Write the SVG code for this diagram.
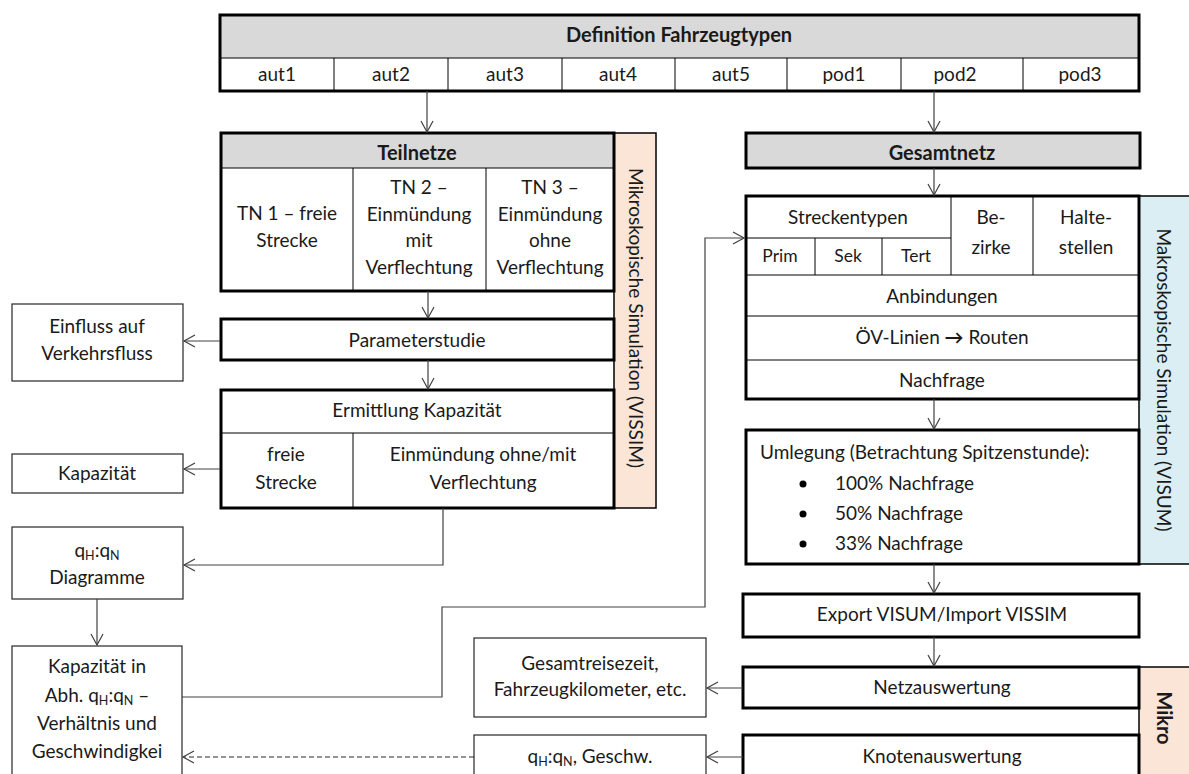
<svg xmlns="http://www.w3.org/2000/svg" width="1189" height="774" viewBox="0 0 1189 774">
<defs>
<style>
text{font-family:Lato,"Liberation Sans",sans-serif;font-size:19px;fill:#1a1a1a;text-anchor:middle}
.b{font-weight:bold;font-size:20px}
.l{text-anchor:start}
.thick{fill:#fff;stroke:#000;stroke-width:3}
.hdr{fill:#d9d9d9;stroke:#000;stroke-width:3}
.thin{fill:none;stroke:#000;stroke-width:1}
.side{fill:#fff;stroke:#262626;stroke-width:1.2}
.orange{fill:#fbe5d6;stroke:#000;stroke-width:1.5}
.blue{fill:#daeef3;stroke:#000;stroke-width:1.5}
.con{fill:none;stroke:#404040;stroke-width:1.2}
.dash{stroke-dasharray:5 3;stroke:#262626}
.sub{font-size:12.5px}
</style>
<marker id="ah" markerUnits="userSpaceOnUse" markerWidth="14" markerHeight="14" refX="12" refY="7" orient="auto">
<path d="M1,1 L12,7 L1,13" fill="none" stroke="#404040" stroke-width="1.2"/>
</marker>
</defs>
<rect width="1189" height="774" fill="#fff"/>

<g id="fahrzeugtypen">
<rect x="220" y="15" width="919" height="76" fill="#fff"/>
<rect x="220" y="15" width="919" height="43" fill="#d9d9d9"/>
<line x1="220" y1="58" x2="1139" y2="58" class="thin"/>
<path d="M334,58V91M448,58V91M562,58V91M675,58V91M787,58V91M901,58V91M1023,58V91" class="thin"/>
<rect x="220" y="15" width="919" height="76" class="thin" style="stroke-width:3"/>
<text x="679" y="42" class="b">Definition Fahrzeugtypen</text>
<text x="277" y="81">aut1</text>
<text x="391" y="81">aut2</text>
<text x="505" y="81">aut3</text>
<text x="618" y="81">aut4</text>
<text x="731" y="81">aut5</text>
<text x="844" y="81">pod1</text>
<text x="955" y="81">pod2</text>
<text x="1080" y="81">pod3</text>
</g>

<g id="mikro-bar">
<rect x="614" y="133" width="42" height="375" class="orange"/>
<text transform="translate(629,318) rotate(90)">Mikroskopische Simulation (VISSIM)</text>
</g>

<g id="teilnetze">
<rect x="221" y="133" width="393" height="158" fill="#fff"/>
<rect x="221" y="133" width="393" height="35" fill="#d9d9d9"/>
<line x1="221" y1="168" x2="614" y2="168" class="thin"/>
<path d="M353,168V291M486,168V291" class="thin"/>
<rect x="221" y="133" width="393" height="158" class="thin" style="stroke-width:3"/>
<text x="417" y="160" class="b">Teilnetze</text>
<text x="287" y="220">TN 1 – freie</text>
<text x="287" y="247">Strecke</text>
<text x="419" y="194">TN 2 –</text>
<text x="419" y="221">Einmündung</text>
<text x="419" y="247">mit</text>
<text x="419" y="274">Verflechtung</text>
<text x="550" y="194">TN 3 –</text>
<text x="550" y="221">Einmündung</text>
<text x="550" y="247">ohne</text>
<text x="550" y="274">Verflechtung</text>
</g>

<g id="parameterstudie">
<rect x="221" y="319" width="393" height="41" class="thick"/>
<text x="417" y="347">Parameterstudie</text>
</g>

<g id="ermittlung">
<rect x="221" y="390" width="393" height="118" class="thick"/>
<path d="M221,433H614M353,433V508" class="thin"/>
<text x="417" y="417">Ermittlung Kapazität</text>
<text x="286" y="461">freie</text>
<text x="286" y="489">Strecke</text>
<text x="483" y="461">Einmündung ohne/mit</text>
<text x="483" y="489">Verflechtung</text>
</g>

<g id="einfluss">
<rect x="12" y="304" width="171" height="77" class="side"/>
<text x="97" y="333">Einfluss auf</text>
<text x="97" y="360">Verkehrsfluss</text>
</g>

<g id="kapazitaet">
<rect x="12" y="454" width="171" height="39" class="side"/>
<text x="97" y="480">Kapazität</text>
</g>

<g id="diagramme">
<rect x="12" y="527" width="171" height="72" class="side"/>
<text x="97" y="557">q<tspan class="sub" dy="3">H</tspan><tspan dy="-3">:q</tspan><tspan class="sub" dy="3">N</tspan></text>
<text x="97" y="584">Diagramme</text>
</g>

<g id="kapazitaet-abh">
<rect x="12" y="646" width="170" height="140" class="side"/>
<text x="97" y="673">Kapazität in</text>
<text x="97" y="702">Abh. q<tspan class="sub" dy="3">H</tspan><tspan dy="-3">:q</tspan><tspan class="sub" dy="3">N</tspan><tspan dy="-3"> –</tspan></text>
<text x="97" y="730">Verhältnis und</text>
<text x="97" y="758">Geschwindigkei</text>
</g>

<g id="gesamtnetz">
<rect x="746" y="133" width="394" height="35" class="hdr"/>
<text x="942" y="160" class="b">Gesamtnetz</text>
</g>

<g id="makro-bar">
<rect x="1139" y="196" width="55" height="368" class="blue"/>
<text transform="translate(1157,380) rotate(90)">Makroskopische Simulation (VISUM)</text>
</g>

<g id="netzdaten">
<rect x="746" y="196" width="393" height="203" fill="#fff"/>
<path d="M746,238H951M746,275H1139M746,316H1139M746,360H1139M951,196V275M1033,196V275M815,238V275M882,238V275" class="thin"/>
<rect x="746" y="196" width="393" height="203" class="thin" style="stroke-width:3"/>
<text x="848" y="224">Streckentypen</text>
<text x="780" y="262" style="font-size:17.5px">Prim</text>
<text x="848" y="262" style="font-size:17.5px">Sek</text>
<text x="916" y="262" style="font-size:17.5px">Tert</text>
<text x="991" y="224">Be-</text>
<text x="991" y="254">zirke</text>
<text x="1086" y="224">Halte-</text>
<text x="1086" y="254">stellen</text>
<text x="942" y="303">Anbindungen</text>
<text x="942" y="344">ÖV-Linien <tspan style="font-weight:bold">→</tspan> Routen</text>
<text x="942" y="387">Nachfrage</text>
</g>

<g id="umlegung">
<rect x="746" y="430" width="393" height="134" class="thick"/>
<text x="760" y="459" class="l">Umlegung (Betrachtung Spitzenstunde):</text>
<circle cx="803" cy="484" r="3.5" fill="#000"/>
<circle cx="803" cy="514" r="3.5" fill="#000"/>
<circle cx="803" cy="544" r="3.5" fill="#000"/>
<text x="835" y="490" class="l">100% Nachfrage</text>
<text x="835" y="520" class="l">50% Nachfrage</text>
<text x="835" y="550" class="l">33% Nachfrage</text>
</g>

<g id="export">
<rect x="743" y="594" width="396" height="43" class="thick"/>
<text x="942" y="621">Export VISUM/Import VISSIM</text>
</g>

<g id="mikro-bar-2">
<rect x="1139" y="667" width="55" height="120" class="orange"/>
<text transform="translate(1157,718) rotate(90)" class="b">Mikro</text>
</g>

<g id="netzauswertung">
<rect x="743" y="667" width="396" height="41" class="thick"/>
<text x="942" y="694">Netzauswertung</text>
</g>

<g id="knotenauswertung">
<rect x="743" y="735" width="396" height="50" class="thick"/>
<text x="942" y="763">Knotenauswertung</text>
</g>

<g id="gesamtreisezeit">
<rect x="474" y="638" width="232" height="79" class="side"/>
<text x="590" y="670">Gesamtreisezeit,</text>
<text x="590" y="696">Fahrzeugkilometer, etc.</text>
</g>

<g id="qhqn-geschw">
<rect x="474" y="735" width="232" height="50" class="side"/>
<text x="590" y="763">q<tspan class="sub" dy="3">H</tspan><tspan dy="-3">:q</tspan><tspan class="sub" dy="3">N</tspan><tspan dy="-3">, Geschw.</tspan></text>
</g>

<g id="connectors">
<path d="M427,91V132" class="con" marker-end="url(#ah)"/>
<path d="M934,91V132" class="con" marker-end="url(#ah)"/>
<path d="M934,168V195" class="con" marker-end="url(#ah)"/>
<path d="M428,291V318" class="con" marker-end="url(#ah)"/>
<path d="M428,360V389" class="con" marker-end="url(#ah)"/>
<path d="M220,341H184" class="con" marker-end="url(#ah)"/>
<path d="M220,469H184" class="con" marker-end="url(#ah)"/>
<path d="M443,508V565H184" class="con" marker-end="url(#ah)"/>
<path d="M97,599V645" class="con" marker-end="url(#ah)"/>
<path d="M182,697H442V607H705V238H744" class="con" marker-end="url(#ah)"/>
<path d="M934,399V429" class="con" marker-end="url(#ah)"/>
<path d="M934,564V593" class="con" marker-end="url(#ah)"/>
<path d="M934,637V666" class="con" marker-end="url(#ah)"/>
<path d="M743,688H707" class="con" marker-end="url(#ah)"/>
<path d="M743,757H707" class="con" marker-end="url(#ah)"/>
<path d="M474,757H183" class="con dash" marker-end="url(#ah)"/>
</g>
</svg>
